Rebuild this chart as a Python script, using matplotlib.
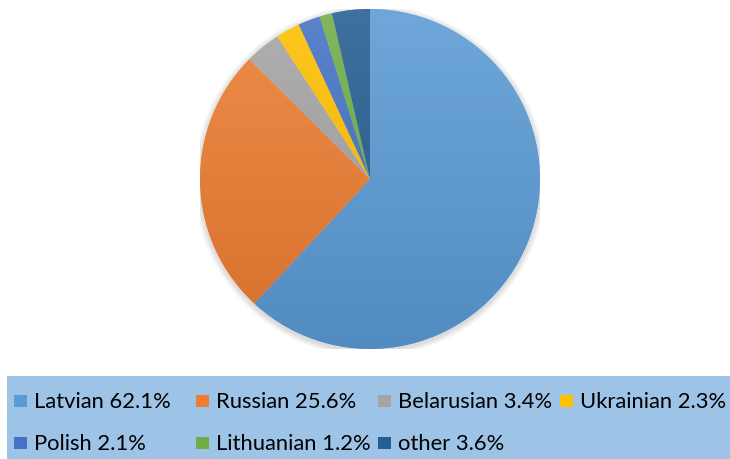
import numpy as np
import matplotlib
matplotlib.use("Agg")
import matplotlib.pyplot as plt
from matplotlib.patches import Rectangle, Circle
from matplotlib.colors import to_rgb

categories = ["Latvian", "Russian", "Belarusian", "Ukrainian", "Polish", "Lithuanian", "other"]
values = [62.1, 25.6, 3.4, 2.3, 2.1, 1.2, 3.6]
colors = ["#5B9BD5", "#ED7D31", "#A5A5A5", "#FFC000", "#4472C4", "#70AD47", "#255E91"]

plt.rcParams['font.family'] = ['Lato', 'DejaVu Sans']

W, H = 730, 460
fig = plt.figure(figsize=(W / 100, H / 100), dpi=100)

# background axes in pixel coordinates
bg = fig.add_axes([0, 0, 1, 1])
bg.set_xlim(0, W)
bg.set_ylim(H, 0)
bg.axis('off')

# pie axes
cx, cy, r = 370, 180, 170
ax = fig.add_axes([(cx - r) / W, (H - cy - r) / H, 2 * r / W, 2 * r / H])
ax.set_xlim(-1.0, 1.0)
ax.set_ylim(-1.0, 1.0)
ax.set_aspect('equal')
ax.axis('off')

# soft shadow
for k in range(6):
    ax.add_patch(Circle((0.0, -0.01), 1.0 + 0.006 * (k + 1), color='black',
                        alpha=0.025, lw=0, zorder=0))

wedges, _ = ax.pie(values, colors=colors, startangle=90, counterclock=False,
                   radius=1.0, wedgeprops=dict(linewidth=0.6, edgecolor=(1, 1, 1, 0.35)))
ax.set_xlim(-1.0, 1.0)
ax.set_ylim(-1.0, 1.0)

# vertical gradient fill inside each wedge
yy = np.linspace(1, 0, 256)[:, None]
for w, c in zip(wedges, colors):
    base = np.array(to_rgb(c))
    light = base + (1 - base) * 0.12
    dark = base * 0.9
    grad = light[None, None, :] * yy[..., None] + dark[None, None, :] * (1 - yy[..., None])
    grad = np.repeat(grad, 2, axis=1)
    im = ax.imshow(grad, extent=(-1, 1, -1, 1), origin='upper', zorder=w.get_zorder() + 0.1,
                   interpolation='bilinear')
    im.set_clip_path(w)

# legend box
bg.add_patch(Rectangle((7, 377), 723, 83, facecolor="#9DC3E6", edgecolor='none'))

marker_x = [14, 196, 378, 560, 14, 196, 378]
row_y = [402, 402, 402, 402, 444, 444, 444]
for cat, val, col, mx, my in zip(categories, values, colors, marker_x, row_y):
    bg.add_patch(Rectangle((mx, my - 6), 13, 12, facecolor=col, edgecolor='none'))
    bg.text(mx + 20, my + 0.5, f"{cat} {val}%", fontsize=15.8, color='black',
            va='center', ha='left')

fig.savefig("out.png", dpi=100)
